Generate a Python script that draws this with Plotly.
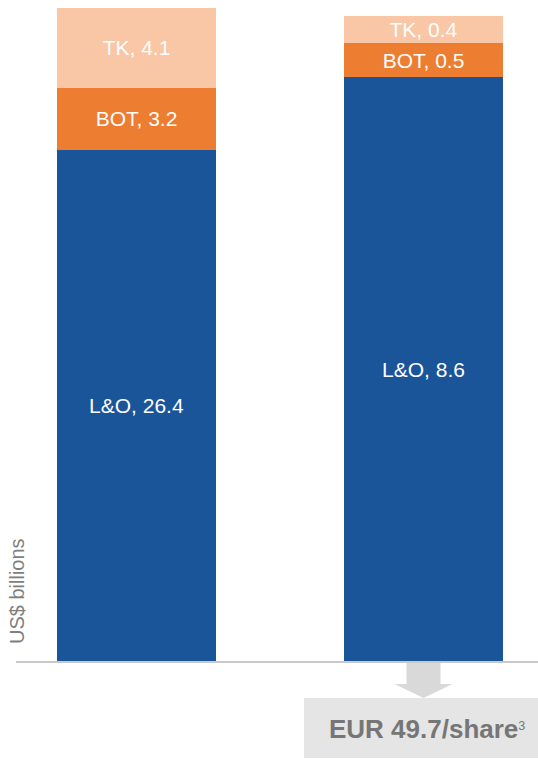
import plotly.graph_objects as go

categories = ["Current", "Pro forma"]
lo_values = [26.4, 8.6]
bot_values = [3.2, 0.5]
tk_values = [4.1, 0.4]
series_names = ["L&O", "BOT", "TK"]
colors = ["#1a5499", "#ed7d31", "#f9c6a6"]

W, H = 538, 759
top_px, base_px = 8, 662
plot_h = base_px - top_px

fig = go.Figure()
x_pos = [0, 1]
yaxes = ["y", "y2"]
for i in range(2):
    vals = [lo_values[i], bot_values[i], tk_values[i]]
    for name, v, c in zip(series_names, vals, colors):
        fig.add_trace(go.Bar(
            x=[x_pos[i]], y=[v], name=name, yaxis=yaxes[i],
            marker=dict(color=c, line=dict(width=0)),
            width=0.554,
            text=[f"{name}, {v}"], textposition="inside",
            insidetextanchor="middle", constraintext="none",
            textfont=dict(color="white", size=21, family="Liberation Sans, Arial"),
            hoverinfo="skip", showlegend=False,
        ))

total_left = sum([lo_values[0], bot_values[0], tk_values[0]])
total_right = sum([lo_values[1], bot_values[1], tk_values[1]])
right_px = 646

fig.update_layout(
    width=W, height=H, barmode="stack",
    margin=dict(l=0, r=0, t=top_px, b=H - base_px),
    plot_bgcolor="white", paper_bgcolor="white",
    xaxis=dict(range=[-136.5 / 287, (538 - 136.5) / 287], visible=False),
    yaxis=dict(range=[0, total_left], visible=False),
    yaxis2=dict(range=[0, total_right * plot_h / right_px], overlaying="y", visible=False),
    font=dict(family="Liberation Sans, Arial"),
    uniformtext=dict(minsize=21, mode="show"),
)

def py(p):
    return (base_px - p) / plot_h

# baseline
fig.add_shape(type="line", xref="paper", yref="paper", x0=16 / W, x1=1, y0=py(662), y1=py(662),
              line=dict(color="#c9c9c9", width=2), layer="above")

# arrow (shaft + head)
sh, hh = 17 / 287, 29 / 287
path = (f"M {1 - sh} {py(663)} L {1 + sh} {py(663)} L {1 + sh} {py(684)} L {1 + hh} {py(684)} "
        f"L 1 {py(698)} L {1 - hh} {py(684)} L {1 - sh} {py(684)} Z")
fig.add_shape(type="path", xref="x", yref="paper", path=path,
              fillcolor="#d9d9d9", line=dict(width=0))

# box
fig.add_shape(type="rect", xref="paper", yref="paper", x0=304 / W, x1=1, y0=py(758), y1=py(698),
              fillcolor="#e5e5e5", line=dict(width=0))
fig.add_annotation(xref="paper", yref="paper", x=427 / W, y=py(729), showarrow=False,
                   xanchor="center", yanchor="middle",
                   text="<b>EUR 49.7/share</b><span style='font-size:18px'><sup>3</sup></span>",
                   font=dict(size=26, color="#767676", family="Liberation Sans, Arial"))

# y-axis title
fig.add_annotation(xref="paper", yref="paper", x=17 / W, y=py(591), showarrow=False,
                   xanchor="center", yanchor="middle",
                   text="US$ billions", textangle=-90,
                   font=dict(size=20, color="#7f7f7f", family="Liberation Sans, Arial"))

fig.write_html("out.html")
